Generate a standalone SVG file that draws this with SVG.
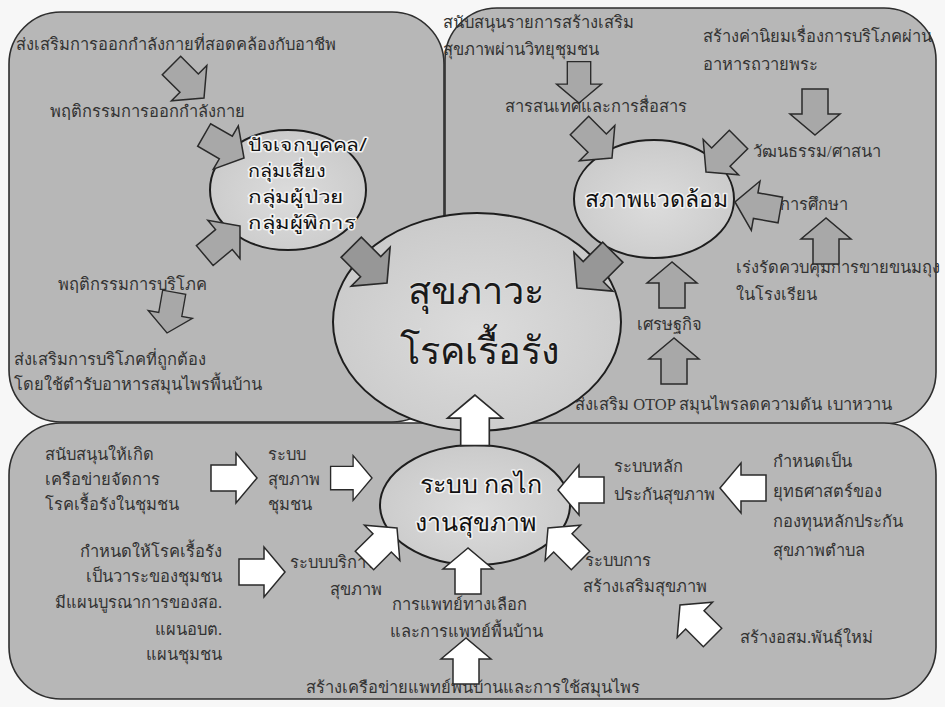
<svg xmlns="http://www.w3.org/2000/svg" width="945" height="707" viewBox="0 0 945 707">
  <defs>
    <style>
      .panel { fill: #b7b7b7; stroke: #2e2e2e; stroke-width: 1.6; }
      .ell { fill: url(#ellFill); stroke: #1e1e1e; stroke-width: 2; }
      .lbl { font-family: "Liberation Serif", "Noto Sans", serif; font-size: 16.5px; fill: #333; }
      .etx { font-family: "Noto Sans", "DejaVu Sans", sans-serif; font-size: 21px; fill: #111; stroke: #f2f2f2; stroke-width: 3; paint-order: stroke; stroke-linejoin: round; }
      .sm { font-size: 18px; }
      .big { font-family: "Noto Sans", "DejaVu Sans", sans-serif; font-size: 38px; fill: #1a1a1a; stroke: #e0e0e0; stroke-width: 2; paint-order: stroke; }
      .ag { fill: #a8a8a8; stroke: #2a2a2a; stroke-width: 1.5; stroke-linejoin: miter; }
      .ad { fill: #979797; stroke: #2a2a2a; stroke-width: 1.5; }
      .aw { fill: #ffffff; stroke: #2a2a2a; stroke-width: 1.5; }
    </style>
    <radialGradient id="ellFill" cx="0.5" cy="0.55" r="0.6">
      <stop offset="0" stop-color="#dcdcdc"/>
      <stop offset="1" stop-color="#c9c9c9"/>
    </radialGradient>
    <!-- block arrow, tip at origin, pointing along +x -->
    <path id="arw" d="M0,0 L-21,-25 L-21,-13 L-46,-13 L-46,13 L-21,13 L-21,25 Z"/>
  </defs>

  <rect width="945" height="707" fill="#f7f7f7"/>

  <!-- three background panels -->
  <g id="panel-individual">
    <rect class="panel" x="9" y="12" width="435" height="410" rx="52" ry="52"/>
  </g>
  <g id="panel-environment">
    <rect class="panel" x="445" y="8" width="491" height="416" rx="52" ry="52"/>
  </g>
  <g id="panel-system">
    <rect class="panel" x="9" y="423" width="927" height="276" rx="52" ry="52"/>
  </g>

  <!-- central outcome -->
  <g id="node-outcome">
    <ellipse class="ell" cx="477" cy="322" rx="144" ry="109"/>
    <text class="big" x="476" y="304" text-anchor="middle">สุขภาวะ</text>
    <text class="big" x="480" y="364" text-anchor="middle">โรคเรื้อรัง</text>
  </g>

  <!-- individual factors -->
  <g id="node-individual">
    <ellipse class="ell" cx="288" cy="190" rx="78" ry="60"/>
    <text class="etx sm" x="248" y="151" textLength="119" lengthAdjust="spacingAndGlyphs">ปัจเจกบุคคล/</text>
    <text class="etx sm" x="248" y="177" textLength="78" lengthAdjust="spacingAndGlyphs">กลุ่มเสี่ยง</text>
    <text class="etx sm" x="248" y="203" textLength="96" lengthAdjust="spacingAndGlyphs">กลุ่มผู้ป่วย</text>
    <text class="etx sm" x="248" y="229" textLength="108" lengthAdjust="spacingAndGlyphs">กลุ่มผู้พิการ</text>
  </g>

  <!-- environment -->
  <g id="node-environment">
    <ellipse class="ell" cx="654" cy="199" rx="80" ry="59"/>
    <text class="etx" x="656" y="207" text-anchor="middle" style="font-size:23px">สภาพแวดล้อม</text>
  </g>

  <!-- health system mechanism -->
  <g id="node-system">
    <ellipse class="ell" cx="475" cy="505" rx="95" ry="60"/>
    <text class="etx" x="481" y="493" text-anchor="middle" style="font-size:25px">ระบบ กลไก</text>
    <text class="etx" x="475" y="531" text-anchor="middle" style="font-size:25px">งานสุขภาพ</text>
  </g>

  <!-- labels: individual panel -->
  <g id="labels-individual">
    <text class="lbl" x="16" y="50">ส่งเสริมการออกกำลังกายที่สอดคล้องกับอาชีพ</text>
    <text class="lbl" x="50" y="117">พฤติกรรมการออกกำลังกาย</text>
    <text class="lbl" x="58" y="290">พฤติกรรมการบริโภค</text>
    <text class="lbl" x="14" y="365">ส่งเสริมการบริโภคที่ถูกต้อง</text>
    <text class="lbl" x="14" y="390">โดยใช้ตำรับอาหารสมุนไพรพื้นบ้าน</text>
  </g>

  <!-- labels: environment panel -->
  <g id="labels-environment">
    <text class="lbl" x="443" y="28">สนับสนุนรายการสร้างเสริม</text>
    <text class="lbl" x="443" y="55">สุขภาพผ่านวิทยุชุมชน</text>
    <text class="lbl" x="703" y="42">สร้างค่านิยมเรื่องการบริโภคผ่าน</text>
    <text class="lbl" x="703" y="70">อาหารถวายพระ</text>
    <text class="lbl" x="505" y="112">สารสนเทศและการสื่อสาร</text>
    <text class="lbl" x="753" y="157">วัฒนธรรม/ศาสนา</text>
    <text class="lbl" x="780" y="210">การศึกษา</text>
    <text class="lbl" x="736" y="273">เร่งรัดควบคุมการขายขนมถุง</text>
    <text class="lbl" x="736" y="300">ในโรงเรียน</text>
    <text class="lbl" x="637" y="330">เศรษฐกิจ</text>
    <text class="lbl" x="575" y="410">ส่งเสริม OTOP สมุนไพรลดความดัน เบาหวาน</text>
  </g>

  <!-- labels: system panel -->
  <g id="labels-system">
    <text class="lbl" x="45" y="460">สนับสนุนให้เกิด</text>
    <text class="lbl" x="45" y="485">เครือข่ายจัดการ</text>
    <text class="lbl" x="45" y="510">โรคเรื้อรังในชุมชน</text>
    <text class="lbl" x="268" y="460">ระบบ</text>
    <text class="lbl" x="268" y="485">สุขภาพ</text>
    <text class="lbl" x="268" y="510">ชุมชน</text>
    <text class="lbl" x="222" y="557" text-anchor="end">กำหนดให้โรคเรื้อรัง</text>
    <text class="lbl" x="222" y="582" text-anchor="end">เป็นวาระของชุมชน</text>
    <text class="lbl" x="222" y="608" text-anchor="end">มีแผนบูรณาการของสอ.</text>
    <text class="lbl" x="222" y="635" text-anchor="end">แผนอบต.</text>
    <text class="lbl" x="222" y="660" text-anchor="end">แผนชุมชน</text>
    <text class="lbl" x="290" y="568">ระบบบริการ</text>
    <text class="lbl" x="330" y="595">สุขภาพ</text>
    <text class="lbl" x="614" y="472">ระบบหลัก</text>
    <text class="lbl" x="614" y="500">ประกันสุขภาพ</text>
    <text class="lbl" x="773" y="467">กำหนดเป็น</text>
    <text class="lbl" x="773" y="497">ยุทธศาสตร์ของ</text>
    <text class="lbl" x="773" y="527">กองทุนหลักประกัน</text>
    <text class="lbl" x="773" y="556">สุขภาพตำบล</text>
    <text class="lbl" x="585" y="566">ระบบการ</text>
    <text class="lbl" x="583" y="592">สร้างเสริมสุขภาพ</text>
    <text class="lbl" x="392" y="610">การแพทย์ทางเลือก</text>
    <text class="lbl" x="390" y="637">และการแพทย์พื้นบ้าน</text>
    <text class="lbl" x="740" y="643">สร้างอสม.พันธุ์ใหม่</text>
    <text class="lbl" x="306" y="693">สร้างเครือข่ายแพทย์พื้นบ้านและการใช้สมุนไพร</text>
  </g>

  <!-- connectors: block arrows -->
  <g id="connectors">
    <use href="#arw" class="ag" transform="translate(204,98) rotate(45)"/>
    <use href="#arw" class="ag" transform="translate(244,158) rotate(30)"/>
    <use href="#arw" class="ag" transform="translate(240,226) rotate(-40)"/>
    <use href="#arw" class="ag" transform="translate(167,333) rotate(100) scale(0.9)"/>
    <use href="#arw" class="ad" transform="translate(387,283) rotate(45) scale(1.1)"/>

    <use href="#arw" class="ag" transform="translate(579,103) rotate(90) scale(0.9)"/>
    <use href="#arw" class="ag" transform="translate(815,135) rotate(90)"/>
    <use href="#arw" class="ag" transform="translate(612,158) rotate(45)"/>
    <use href="#arw" class="ag" transform="translate(706,172) rotate(135)"/>
    <use href="#arw" class="ag" transform="translate(735,202) rotate(190)"/>
    <use href="#arw" class="ag" transform="translate(826,218) rotate(-90)"/>
    <use href="#arw" class="ad" transform="translate(577,288) rotate(135) scale(1.1)"/>
    <use href="#arw" class="ag" transform="translate(672,262) rotate(-90)"/>
    <use href="#arw" class="ag" transform="translate(674,338) rotate(-90)"/>

    <use href="#arw" class="aw" transform="translate(257,478) rotate(0)"/>
    <use href="#arw" class="aw" transform="translate(372,478) rotate(0) scale(0.9)"/>
    <use href="#arw" class="aw" transform="translate(285,572) rotate(0)"/>
    <use href="#arw" class="aw" transform="translate(397,528) rotate(-45)"/>
    <use href="#arw" class="aw" transform="translate(468,548) rotate(-90)"/>
    <use href="#arw" class="aw" transform="translate(548,528) rotate(-135)"/>
    <use href="#arw" class="aw" transform="translate(558,490) rotate(180)"/>
    <use href="#arw" class="aw" transform="translate(720,488) rotate(180)"/>
    <use href="#arw" class="aw" transform="translate(680,605) rotate(-135)"/>
    <use href="#arw" class="aw" transform="translate(466,638) rotate(-90)"/>
    <use href="#arw" class="aw" transform="translate(475,395) rotate(-90) scale(1.1)"/>
  </g>
</svg>
